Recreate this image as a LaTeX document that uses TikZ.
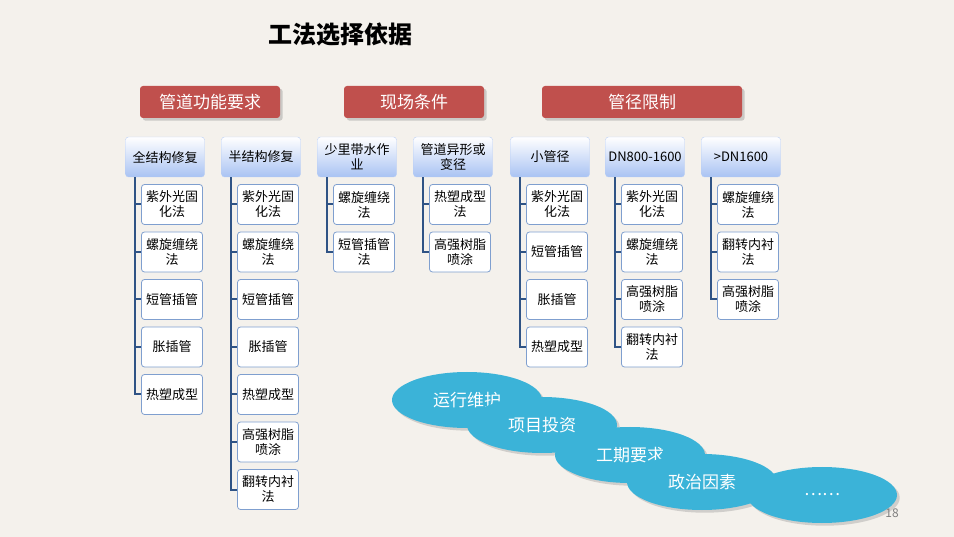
\documentclass[tikz,border=0pt]{standalone}
\usepackage{fontspec}
\setmainfont{Noto Sans CJK SC}
\usetikzlibrary{positioning,shadows,shapes.geometric}
\definecolor{bg}{HTML}{F4F1EC}
\definecolor{redbox}{HTML}{C0504D}
\definecolor{treeline}{HTML}{2F5385}
\definecolor{leafline}{HTML}{7F9FCF}
\definecolor{headblue}{HTML}{A9C3F3}
\definecolor{ovalblue}{HTML}{3BB3D8}
\begin{document}
\begin{tikzpicture}[
    x=1pt, y=-1pt,
    topic/.style={rectangle, rounded corners=3pt, fill=redbox, text=white, minimum width=140pt, minimum height=32pt, font=\fontsize{17}{19}\selectfont, drop shadow={opacity=0.35}},
    branch/.style={rectangle, rounded corners=3pt, top color=white, bottom color=headblue, draw=headblue!80, minimum width=79pt, minimum height=40pt, inner sep=1pt, align=center, font=\fontsize{13}{15}\selectfont},
    leaf/.style={rectangle, rounded corners=3pt, fill=white, draw=leafline, thick, minimum width=61pt, minimum height=40pt, inner sep=1pt, align=center, font=\fontsize{13}{15}\selectfont},
    link/.style={treeline, line width=2pt},
    factor/.style={ellipse, fill=ovalblue, text=white, minimum width=150pt, minimum height=56pt, font=\fontsize{17}{19}\selectfont, drop shadow={opacity=0.3}}
  ]
  \fill[bg] (0,0) rectangle (954,537);
  \useasboundingbox (0,0) rectangle (954,537);

  % title and topics
  \node[font=\fontsize{24}{26}\selectfont\bfseries] (title) at (340,35) {工法选择依据};
  \node[topic] (func) at (210,102) {管道功能要求};
  \node[topic] (site) at (414,102) {现场条件};
  \node[topic, minimum width=200pt] (size) at (642,102) {管径限制};

  % branches with their leaves
  \foreach \name/\x/\label/\leaves in {
      b1/165/全结构修复/{紫外光固\\化法,螺旋缠绕\\法,短管插管,胀插管,热塑成型},
      b2/261/半结构修复/{紫外光固\\化法,螺旋缠绕\\法,短管插管,胀插管,热塑成型,高强树脂\\喷涂,翻转内衬\\法},
      b3/357/少里带水作\\业/{螺旋缠绕\\法,短管插管\\法},
      b4/453/管道异形或\\变径/{热塑成型\\法,高强树脂\\喷涂},
      b5/550/小管径/{紫外光固\\化法,短管插管,胀插管,热塑成型},
      b6/645/DN800-1600/{紫外光固\\化法,螺旋缠绕\\法,高强树脂\\喷涂,翻转内衬\\法},
      b7/741/>DN1600/{螺旋缠绕\\法,翻转内衬\\法,高强树脂\\喷涂}} {
    \node[branch] (\name) at (\x,157) {\label};
    \coordinate (\name-top) at ([xshift=10pt]\name.south west);
    \foreach \leaf [count=\i] in \leaves {
      \node[leaf] (\name-\i) at (\x+7,157+47.5*\i) {\leaf};
      \draw[link] (\name-top) |- (\name-\i.west);
    }
  }

  % other factors
  \node[factor] (ops) at (467,400) {运行维护};
  \node[factor] (invest) at (542,425) {项目投资};
  \node[factor] (period) at (630,455) {工期要求};
  \node[factor] (policy) at (702,482) {政治因素};
  \node[factor] (more) at (822,495) {……};
  \node[gray, font=\fontsize{12}{14}\selectfont] (page) at (892,513) {18};
\end{tikzpicture}
\end{document}
